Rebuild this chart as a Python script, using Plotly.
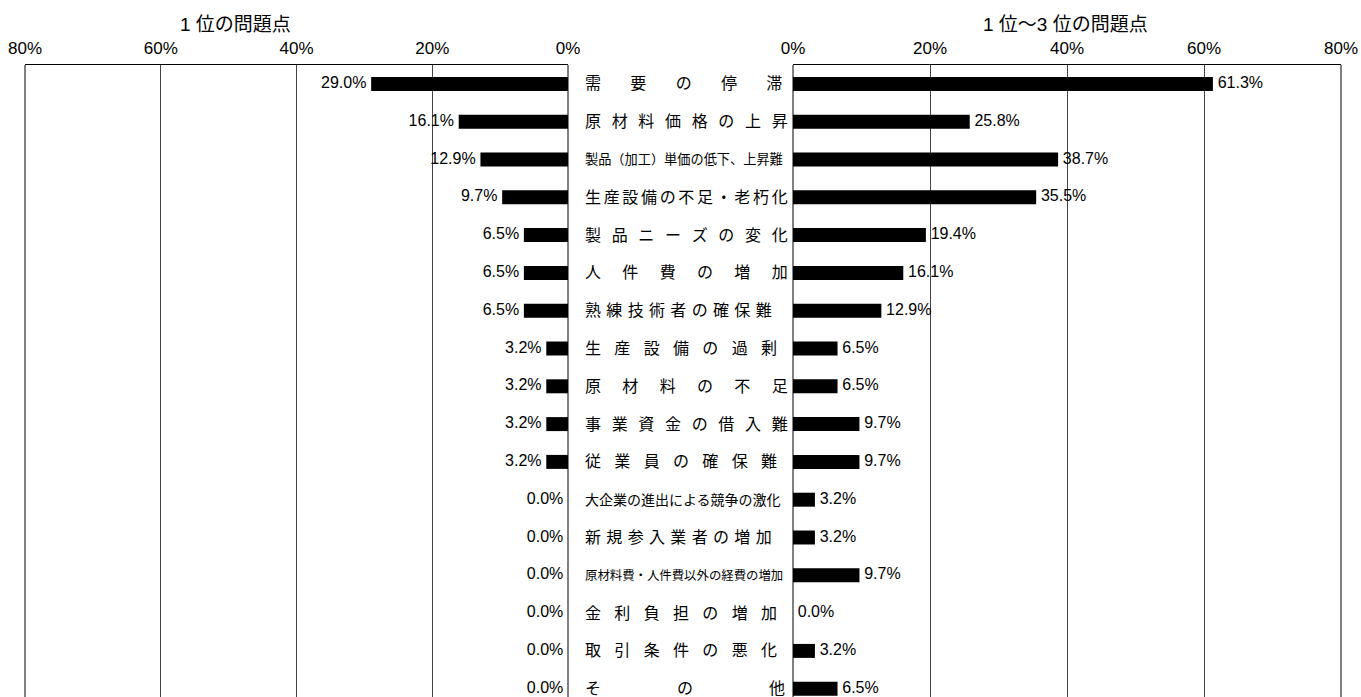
import plotly.graph_objects as go

# 問題点の項目（上から順）
categories = [
    "需要の停滞",
    "原材料価格の上昇",
    "製品（加工）単価の低下、上昇難",
    "生産設備の不足・老朽化",
    "製品ニーズの変化",
    "人件費の増加",
    "熟練技術者の確保難",
    "生産設備の過剰",
    "原材料の不足",
    "事業資金の借入難",
    "従業員の確保難",
    "大企業の進出による競争の激化",
    "新規参入業者の増加",
    "原材料費・人件費以外の経費の増加",
    "金利負担の増加",
    "取引条件の悪化",
    "その他",
]

# 1位の問題点（%）
first_rank = [29.0, 16.1, 12.9, 9.7, 6.5, 6.5, 6.5, 3.2, 3.2, 3.2, 3.2,
              0.0, 0.0, 0.0, 0.0, 0.0, 0.0]
# 1位～3位の問題点（%）
top3_rank = [61.3, 25.8, 38.7, 35.5, 19.4, 16.1, 12.9, 6.5, 6.5, 9.7, 9.7,
             3.2, 3.2, 9.7, 0.0, 3.2, 6.5]

tick_vals = [0, 20, 40, 60, 80]
tick_text = ["0%", "20%", "40%", "60%", "80%"]

W, H = 1361, 697
TOP = 65
FONT = "Liberation Sans, Noto Sans CJK JP, sans-serif"
NUM_FONT = "Liberation Sans, sans-serif"
LABEL_W = 200.0

# 横幅いっぱいに均等割付するための空白
SPACES = [(1.0, "\u2003"), (0.5, "\u2002"), (1 / 3, "\u2004"),
          (0.25, "\u2005"), (1 / 6, "\u2006")]


def spread(label, size, width=LABEL_W):
    n = len(label)
    if n < 2:
        return label
    gap = (width / size - n) / (n - 1)
    if gap <= 0.05:
        return label
    filler = ""
    rest = gap
    for w, ch in SPACES:
        while rest >= w - 0.04:
            filler += ch
            rest -= w
    return filler.join(label)


label_sizes = {
    "製品（加工）単価の低下、上昇難": 13.2,
    "大企業の進出による競争の激化": 14,
    "原材料費・人件費以外の経費の増加": 12.4,
}

fig = go.Figure()

bar_style = dict(orientation="h", yaxis="y",
                 marker=dict(color="black", line=dict(width=0)),
                 width=0.37, showlegend=False, hoverinfo="x+y")

fig.add_trace(go.Bar(y=categories, x=first_rank, xaxis="x", **bar_style))
fig.add_trace(go.Bar(y=categories, x=top3_rank, xaxis="x2", **bar_style))

# 値ラベル（見えないマーカーで棒の端から少し離す）
label_style = dict(yaxis="y", mode="markers+text",
                   marker=dict(size=6, opacity=0),
                   textfont=dict(family=NUM_FONT, size=16, color="black"),
                   cliponaxis=False, showlegend=False, hoverinfo="skip")
fig.add_trace(go.Scatter(
    y=categories, x=first_rank, xaxis="x",
    text=[f"{v:.1f}%" for v in first_rank], textposition="middle left",
    **label_style,
))
fig.add_trace(go.Scatter(
    y=categories, x=top3_rank, xaxis="x2",
    text=[f"{v:.1f}%" for v in top3_rank], textposition="middle right",
    **label_style,
))

left_dom = [25 / W, 568 / W]
right_dom = [793 / W, 1341 / W]
span = (H - TOP) / 37.8

axis_common = dict(
    side="top", tickvals=tick_vals, ticktext=tick_text,
    showgrid=True, gridcolor="#444444", gridwidth=1,
    zeroline=False, showline=True, linecolor="black", linewidth=1,
    ticks="", tickfont=dict(family=NUM_FONT, size=17, color="black"),
    ticklabelstandoff=3, automargin=False, fixedrange=True,
)

fig.update_layout(
    width=W, height=H,
    margin=dict(l=0, r=0, t=TOP, b=0, pad=0),
    paper_bgcolor="white", plot_bgcolor="white",
    xaxis=dict(domain=left_dom, range=[80, 0], anchor="y", **axis_common),
    xaxis2=dict(domain=right_dom, range=[0, 80], anchor="y", **axis_common),
    yaxis=dict(type="category", categoryorder="array", categoryarray=categories,
               range=[-0.5 + span, -0.5], showticklabels=False, showgrid=False,
               zeroline=False, showline=False, ticks="", automargin=False,
               fixedrange=True),
)

# 枠の縦線
for xr in ("x domain", "x2 domain"):
    for xv in (0, 1):
        fig.add_shape(type="line", xref=xr, yref="paper", x0=xv, x1=xv,
                      y0=0, y1=1, line=dict(color="black", width=1))

# 中央の項目名
for cat in categories:
    size = label_sizes.get(cat, 16)
    fig.add_annotation(
        x=583 / W, xref="paper", y=cat, yref="y",
        xanchor="left", yanchor="middle", showarrow=False,
        text=spread(cat, size),
        font=dict(family=FONT, size=size, color="black"),
    )

# 見出し
title_y = 1 + (TOP - 24) / (H - TOP)
fig.add_annotation(x=235 / W, y=title_y, xref="paper", yref="paper",
                   xanchor="center", yanchor="middle", showarrow=False,
                   text="1 位の問題点",
                   font=dict(family=FONT, size=19, color="black"))
fig.add_annotation(x=1065 / W, y=title_y, xref="paper", yref="paper",
                   xanchor="center", yanchor="middle", showarrow=False,
                   text="1 位～3 位の問題点",
                   font=dict(family=FONT, size=19, color="black"))

fig.write_html("out.html")
